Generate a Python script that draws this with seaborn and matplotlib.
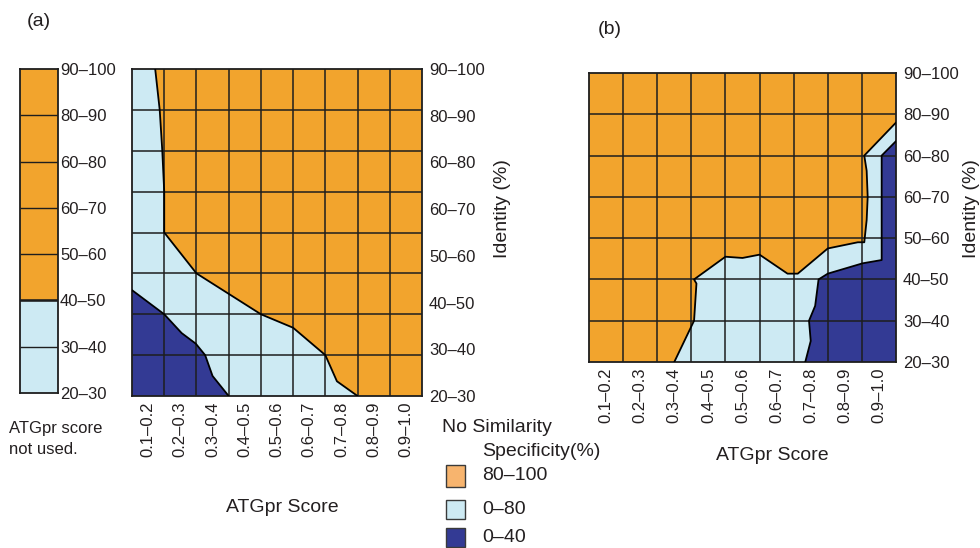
import numpy as np
import matplotlib
matplotlib.use("Agg")
import matplotlib.pyplot as plt
from matplotlib.colors import ListedColormap
from matplotlib.patches import Rectangle
import seaborn as sns

# ---------------- data ----------------
score_labels = ["0.1–0.2", "0.2–0.3", "0.3–0.4", "0.4–0.5", "0.5–0.6",
                "0.6–0.7", "0.7–0.8", "0.8–0.9", "0.9–1.0"]
identity_labels = ["90–100", "80–90", "60–80", "60–70", "50–60",
                   "40–50", "30–40", "20–30"]
# strip (ATGpr score not used): 1 = 80-100 specificity, 0 = 0-80
strip_classes = [1, 1, 1, 1, 1, 0, 0]

# panel (a) boundaries, x in score columns, y in identity rows (8 rows)
a_upper_x = [0.72, 0.86, 0.94, 1.0, 1.0, 2.0, 3.0, 4.0, 5.0, 6.0, 6.36, 7.0]
a_upper_y = [8.0, 7.0, 6.0, 5.0, 4.0, 3.0, 2.5, 2.0, 1.67, 1.0, 0.36, 0.0]
a_lower_x = [0.0, 1.0, 1.54, 1.98, 2.27, 2.5, 3.0]
a_lower_y = [2.59, 2.0, 1.54, 1.28, 1.0, 0.49, 0.0]

# panel (b) boundaries (7 rows)
b_upper_x = [2.5, 3.08, 3.15, 3.08, 4.0, 4.5, 5.0, 5.82, 6.12, 7.0, 7.88,
             8.07, 8.14, 8.17, 8.14, 8.07, 9.0]
b_upper_y = [0.0, 1.0, 1.9, 2.0, 2.55, 2.52, 2.6, 2.14, 2.14, 2.75, 2.9,
             2.9, 3.44, 4.0, 4.63, 5.0, 5.8]
b_lower_x = [6.34, 6.5, 6.45, 6.63, 6.73, 7.0, 8.02, 8.58, 8.58, 9.0]
b_lower_y = [0.0, 0.51, 1.0, 1.36, 2.0, 2.14, 2.39, 2.47, 5.0, 5.35]

legend_labels = ["80–100", "0–80", "0–40"]

# ---------------- style ----------------
ORANGE = "#F2A42D"
LIGHT = "#CDEAF3"
DARK = "#333A94"
LEG_ORANGE = "#F7B46E"
INK = "#231F20"
GRID = "#1E1E1E"

sns.set_theme(style="white")
plt.rcParams["font.family"] = ["Liberation Sans", "DejaVu Sans"]
plt.rcParams["text.color"] = INK
plt.rcParams["xtick.color"] = INK
plt.rcParams["ytick.color"] = INK

W, H = 980, 548
fig = plt.figure(figsize=(W / 100, H / 100), dpi=100)


def px_axes(x0, y0, x1, y1):
    return fig.add_axes([x0 / W, 1 - y1 / H, (x1 - x0) / W, (y1 - y0) / H])


def ftext(x, y, s, **kw):
    fig.text(x / W, 1 - y / H, s, **kw)


# ---------------- strip ----------------
ax_s = px_axes(20, 69, 58, 393)
sns.heatmap(np.array(strip_classes).reshape(-1, 1), cmap=ListedColormap([LIGHT, ORANGE]),
            vmin=0, vmax=1, cbar=False, linewidths=0, xticklabels=False,
            yticklabels=False, ax=ax_s)
ax_s.hlines(np.arange(1, len(strip_classes)), 0, 1, color=GRID, lw=1.0, zorder=3)
ax_s.axhline(5, color=GRID, lw=1.8, zorder=3)
for sp in ax_s.spines.values():
    sp.set_visible(True)
    sp.set_color(GRID)
    sp.set_linewidth(1.3)
ax_s.yaxis.tick_right()
ax_s.set_yticks(np.arange(len(identity_labels)))
ax_s.set_yticklabels(identity_labels, fontsize=12, rotation=0)
ax_s.tick_params(axis="y", length=0, pad=1.5)
ax_s.set_xticks([])


def grid_panel(ax, nrows, upper_x, upper_y, lower_x, lower_y, kind):
    ax.set_facecolor(ORANGE)
    if kind == "a":
        ax.fill(np.r_[0, 0, upper_x], np.r_[0, nrows, upper_y], color=LIGHT, lw=0, zorder=1)
        ax.fill(np.r_[0, lower_x], np.r_[0, lower_y], color=DARK, lw=0, zorder=1.1)
    else:
        ax.fill(np.r_[upper_x, 9], np.r_[upper_y, 0], color=LIGHT, lw=0, zorder=1)
        ax.fill(np.r_[lower_x, 9], np.r_[lower_y, 0], color=DARK, lw=0, zorder=1.1)
    ax.grid(False)
    ax.vlines(np.arange(1, 9), 0, nrows, color=GRID, lw=1.1, zorder=3)
    ax.hlines(np.arange(1, nrows), 0, 9, color=GRID, lw=1.1, zorder=3)
    sns.lineplot(x=upper_x, y=upper_y, sort=False, estimator=None, color="black",
                 lw=1.3, ax=ax, zorder=4, legend=False)
    sns.lineplot(x=lower_x, y=lower_y, sort=False, estimator=None, color="black",
                 lw=1.3, ax=ax, zorder=4, legend=False)
    ax.set_xlim(0, 9)
    ax.set_ylim(0, nrows)
    ax.set_xticks(np.arange(9) + 0.5)
    ax.set_xticklabels(score_labels, rotation=90, fontsize=12)
    ax.yaxis.tick_right()
    ax.set_yticks(np.linspace(nrows, 0, len(identity_labels)))
    ax.set_yticklabels(identity_labels, fontsize=12)
    ax.tick_params(which="both", length=0)
    ax.tick_params(axis="x", pad=4)
    ax.tick_params(axis="y", pad=5)
    ax.set_xlabel("")
    ax.set_ylabel("")
    for sp in ax.spines.values():
        sp.set_visible(True)
        sp.set_color(GRID)
        sp.set_linewidth(1.3)


ax_a = px_axes(132, 69, 422, 396)
grid_panel(ax_a, 8, a_upper_x, a_upper_y, a_lower_x, a_lower_y, "a")

ax_b = px_axes(589, 73, 896, 362)
grid_panel(ax_b, 7, b_upper_x, b_upper_y, b_lower_x, b_lower_y, "b")

# ---------------- texts ----------------
ftext(27, 22, "(a)", fontsize=14, va="center", ha="left")
ftext(598, 30, "(b)", fontsize=14, va="center", ha="left")
ftext(282, 508, "ATGpr Score", fontsize=14, ha="center", va="center")
ftext(772, 455, "ATGpr Score", fontsize=14, ha="center", va="center")
ftext(502, 209, "Identity (%)", fontsize=14, ha="center", va="center", rotation=90)
ftext(971, 209, "Identity (%)", fontsize=14, ha="center", va="center", rotation=90)
ftext(9, 429, "ATGpr score", fontsize=12, ha="left", va="center")
ftext(9, 449, "not used.", fontsize=12, ha="left", va="center")

# ---------------- legend ----------------
ftext(442, 428, "No Similarity", fontsize=14, ha="left", va="center")
ftext(482, 451, "Specificity(%)", fontsize=14, ha="left", va="center")
leg_cols = [LEG_ORANGE, LIGHT, DARK]
leg_y = [(465, 487), (500, 519), (528, 547)]
for lab, col, (y0, y1) in zip(legend_labels, leg_cols, leg_y):
    fig.add_artist(Rectangle((446 / W, 1 - y1 / H), 19 / W, (y1 - y0) / H,
                             transform=fig.transFigure, facecolor=col,
                             edgecolor="#3A3A3A", lw=1.0))
    ftext(482, (y0 + y1) / 2, lab, fontsize=14, ha="left", va="center")

fig.savefig("out.png", dpi=100)
